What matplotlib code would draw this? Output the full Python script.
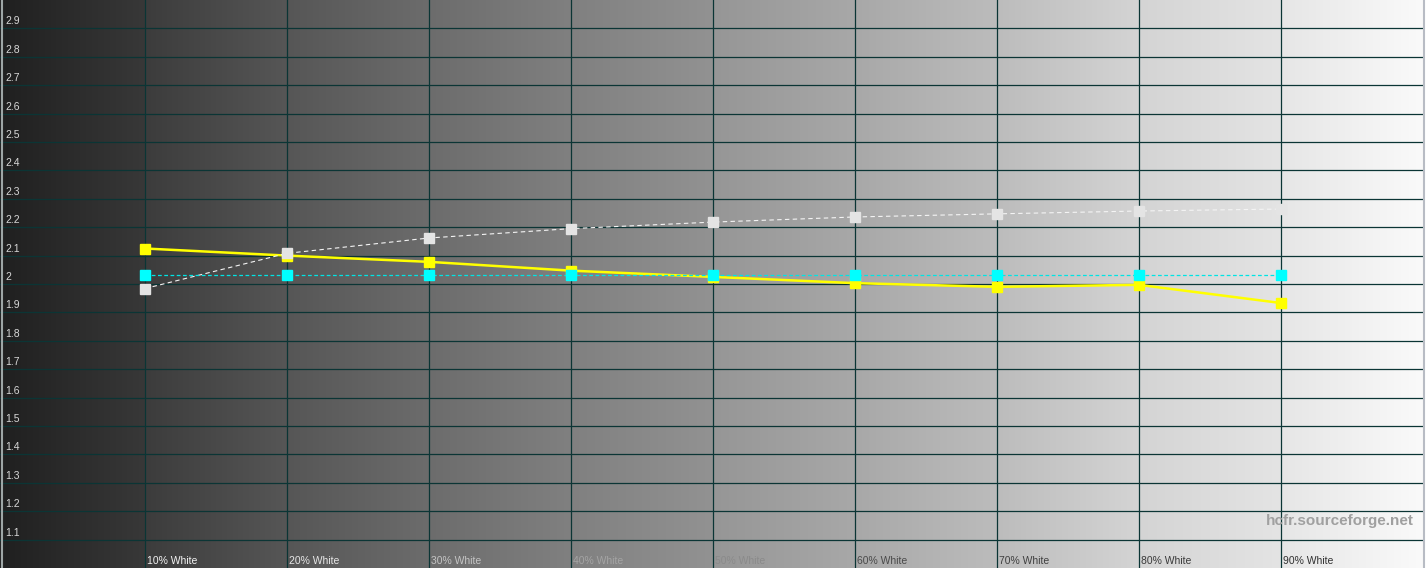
import numpy as np
import matplotlib
matplotlib.use("Agg")
import matplotlib.pyplot as plt

# ---- data ----
x_levels = [10, 20, 30, 40, 50, 60, 70, 80, 90]
x_labels = ["10% White", "20% White", "30% White", "40% White", "50% White",
            "60% White", "70% White", "80% White", "90% White"]
gamma_measured = [2.125, 2.100, 2.078, 2.047, 2.025, 2.003, 1.990, 1.997, 1.933]
gamma_point = [1.984, 2.108, 2.162, 2.195, 2.218, 2.236, 2.247, 2.257, 2.264]
gamma_target = [2.03, 2.03, 2.03, 2.03, 2.03, 2.03, 2.03, 2.03, 2.03]
y_ticks = [1.1, 1.2, 1.3, 1.4, 1.5, 1.6, 1.7, 1.8, 1.9, 2.0,
           2.1, 2.2, 2.3, 2.4, 2.5, 2.6, 2.7, 2.8, 2.9]
y_tick_labels = ["1.1", "1.2", "1.3", "1.4", "1.5", "1.6", "1.7", "1.8", "1.9", "2",
                 "2.1", "2.2", "2.3", "2.4", "2.5", "2.6", "2.7", "2.8", "2.9"]

W, H, DPI = 1428, 568, 100
fig = plt.figure(figsize=(W / DPI, H / DPI), dpi=DPI)
ax = fig.add_axes([0, 0, 1, 1])
px = 10 / 142.0  # data units per pixel in x
x0 = -3 * px
x1 = x0 + W * px
ax.set_xlim(x0, x1)
ax.set_ylim(1.0, 3.0)
ax.set_facecolor("white")
for s in ax.spines.values():
    s.set_visible(False)
ax.set_xticks([])
ax.set_yticks([])

# background gradient bands
starts = [0x20, 0x3c, 0x56, 0x6c, 0x80, 0x96, 0xa8, 0xbc, 0xd4, 0xe6]
ends = [0x38, 0x56, 0x6c, 0x80, 0x92, 0xa8, 0xbc, 0xd4, 0xe4, 0xfa]
xs = np.linspace(x0, 100, 3000)
band = np.clip(np.floor(xs / 10).astype(int), 0, 9)
frac = np.clip((xs - band * 10) / 10.0, 0, 1)
lev = (np.array(starts)[band] + (np.array(ends)[band] - np.array(starts)[band]) * frac) / 255.0
img = np.stack([lev, lev, lev], axis=-1)[None, :, :]
ax.imshow(img, extent=[x0, 100, 1.0, 3.0], aspect="auto", zorder=0, interpolation="bilinear")

grid_c = "#0b3535"
for yv in y_ticks:
    ax.plot([x0, 100], [yv, yv], color=grid_c, lw=0.9, zorder=1)
for xv in x_levels:
    ax.axvline(xv, color=grid_c, lw=0.9, zorder=1)
# borders
ax.axvline(x0 + 1.5 * px, color="#9ea6a6", lw=1.5, zorder=2)
ax.axvline(100 + 1.5 * px, color="#b8bcc4", lw=1.5, zorder=2)

# y labels
for yv, lab in zip(y_ticks, y_tick_labels):
    ax.text(x0 + 5 * px, yv + 0.025, lab, color="#d8d8d8", fontsize=7.5,
            family="Liberation Sans", va="center", ha="left", zorder=3)

# x labels
lab_colors = ["#f2f2f2", "#e6e6e6", "#c4c4c4", "#a4a4a4", "#8a8a8a",
              "#4a4a4a", "#404040", "#3a3a3a", "#303030"]
for xv, lab, c in zip(x_levels, x_labels, lab_colors):
    ax.text(xv + 2 * px, 1.025, lab, color=c, fontsize=7.5, family="Liberation Sans",
            va="center", ha="left", zorder=3)

ax.text(100 - 9 * px, 1.165, "hcfr.sourceforge.net", color="#a0a0a0", fontsize=11,
        fontweight="bold", family="Liberation Sans", va="center", ha="right", zorder=3)

# series
ax.plot(x_levels, gamma_measured, color="#ffff00", lw=1.8, zorder=4,
        marker="s", ms=6.5, mec="#ffff00", mfc="#ffff00")
ax.plot(x_levels, gamma_point, color="#f4f4f4", lw=0.8, ls=(0, (4, 3)), zorder=5,
        marker="s", ms=6.5, mec="#e4e4e4", mfc="#e4e4e4")
ax.plot(x_levels, gamma_target, color="#00e4e4", lw=0.9, ls=(0, (3, 2)), zorder=6,
        marker="s", ms=6.5, mec="#00ffff", mfc="#00ffff")

fig.savefig("out.png", dpi=DPI)
